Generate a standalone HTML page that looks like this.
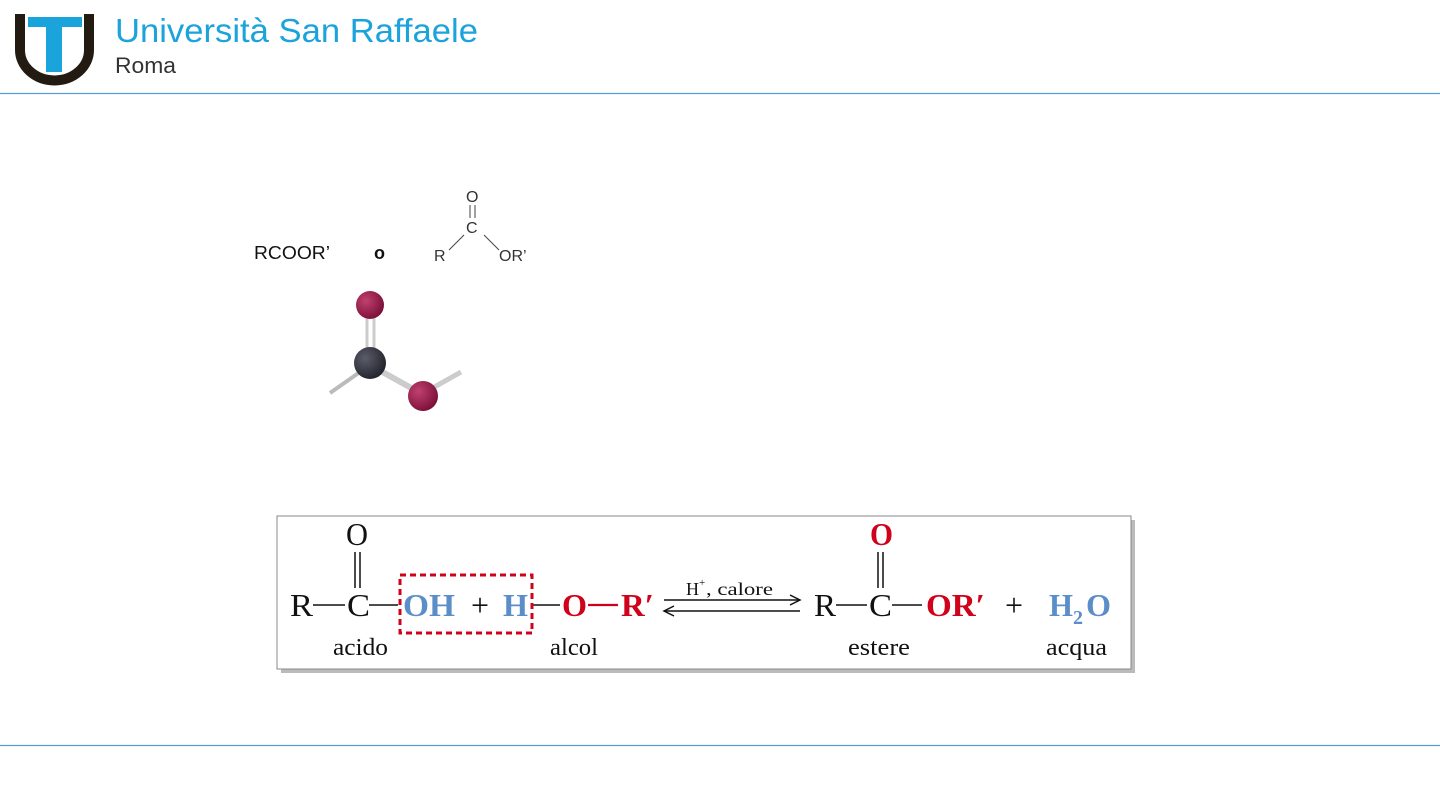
<!DOCTYPE html>
<html><head><meta charset="utf-8"><style>
html,body{margin:0;padding:0;background:#fff;}
svg{display:block}
</style></head><body>
<svg width="1440" height="810" viewBox="0 0 1440 810" xmlns="http://www.w3.org/2000/svg">
<defs>
<radialGradient id="rg" cx="0.35" cy="0.35" r="0.7"><stop offset="0" stop-color="#c0416e"/><stop offset="1" stop-color="#7a0f38"/></radialGradient>
<radialGradient id="bg" cx="0.35" cy="0.35" r="0.7"><stop offset="0" stop-color="#5a5c6a"/><stop offset="1" stop-color="#22232b"/></radialGradient>
</defs>
<rect width="1440" height="810" fill="#fff"/>
<!-- logo -->
<path d="M20 14 V50 A34 30 0 0 0 89 50 V14" fill="none" stroke="#231a12" stroke-width="10"/>
<rect x="28" y="17" width="54" height="10" fill="#1ba3dc"/>
<rect x="46" y="27" width="16" height="45" fill="#1ba3dc"/>
<text x="115" y="42" font-family="Liberation Sans, sans-serif" font-size="33" fill="#1ba3dc" textLength="363" lengthAdjust="spacingAndGlyphs">Università San Raffaele</text>
<text x="115" y="73" font-family="Liberation Sans, sans-serif" font-size="22" fill="#333" textLength="61" lengthAdjust="spacingAndGlyphs">Roma</text>
<line x1="0" y1="93.5" x2="1440" y2="93.5" stroke="#5b9bd5" stroke-width="1.2"/>
<line x1="0" y1="745.5" x2="1440" y2="745.5" stroke="#5b9bd5" stroke-width="1.2"/>
<!-- formula -->
<text x="254" y="259" font-family="Liberation Sans, sans-serif" font-size="18" fill="#111" textLength="76" lengthAdjust="spacingAndGlyphs">RCOOR’</text>
<text x="374" y="259" font-family="Liberation Sans, sans-serif" font-size="18" font-weight="bold" fill="#111">o</text>
<g font-family="Liberation Sans, sans-serif" font-size="16" fill="#333">
<text x="466" y="202">O</text>
<text x="466" y="233">C</text>
<text x="434" y="261">R</text>
<text x="499" y="261">OR’</text>
</g>
<line x1="470" y1="205" x2="470" y2="218" stroke="#444" stroke-width="1"/>
<line x1="475" y1="205" x2="475" y2="218" stroke="#444" stroke-width="1"/>
<line x1="449" y1="250" x2="464" y2="235" stroke="#444" stroke-width="1"/>
<line x1="484" y1="235" x2="499" y2="250" stroke="#444" stroke-width="1"/>
<!-- ball & stick -->
<line x1="367" y1="312" x2="367" y2="360" stroke="#ccc" stroke-width="3"/>
<line x1="374" y1="312" x2="374" y2="360" stroke="#ccc" stroke-width="3"/>
<line x1="330" y1="393" x2="370" y2="365" stroke="#bbb" stroke-width="4"/>
<line x1="370" y1="365" x2="422" y2="394" stroke="#ccc" stroke-width="6"/>
<line x1="422" y1="394" x2="461" y2="372" stroke="#ccc" stroke-width="5"/>
<circle cx="370" cy="305" r="14" fill="url(#rg)"/>
<circle cx="370" cy="363" r="16" fill="url(#bg)"/>
<circle cx="423" cy="396" r="15" fill="url(#rg)"/>
<!-- reaction box -->
<rect x="281" y="520" width="854" height="153" fill="#bbb"/>
<rect x="277" y="516" width="854" height="153" fill="#fff" stroke="#888" stroke-width="1"/>
<g font-family="Liberation Serif, serif" font-size="32">
<text x="290" y="616" fill="#111" textLength="23" lengthAdjust="spacingAndGlyphs">R</text>
<text x="347" y="616" fill="#111" textLength="23" lengthAdjust="spacingAndGlyphs">C</text>
<text x="346" y="545" fill="#111" textLength="22" lengthAdjust="spacingAndGlyphs">O</text>
<text x="403" y="616" fill="#5b8ec9" font-weight="bold" textLength="52" lengthAdjust="spacingAndGlyphs">OH</text>
<text x="471" y="616" fill="#111" textLength="18" lengthAdjust="spacingAndGlyphs">+</text>
<text x="503" y="616" fill="#5b8ec9" font-weight="bold" textLength="25" lengthAdjust="spacingAndGlyphs">H</text>
<text x="562" y="616" fill="#d0021b" font-weight="bold" textLength="25" lengthAdjust="spacingAndGlyphs">O</text>
<text x="621" y="616" fill="#d0021b" font-weight="bold" textLength="33" lengthAdjust="spacingAndGlyphs">R′</text>
<text x="814" y="616" fill="#111" textLength="22" lengthAdjust="spacingAndGlyphs">R</text>
<text x="869" y="616" fill="#111" textLength="23" lengthAdjust="spacingAndGlyphs">C</text>
<text x="870" y="545" fill="#d0021b" font-weight="bold" textLength="23" lengthAdjust="spacingAndGlyphs">O</text>
<text x="926" y="616" fill="#d0021b" font-weight="bold" textLength="59" lengthAdjust="spacingAndGlyphs">OR′</text>
<text x="1005" y="616" fill="#111" textLength="18" lengthAdjust="spacingAndGlyphs">+</text>
<text x="1049" y="616" fill="#5b8ec9" font-weight="bold" textLength="24" lengthAdjust="spacingAndGlyphs">H</text>
<text x="1073" y="624" fill="#5b8ec9" font-weight="bold" font-size="20">2</text>
<text x="1086" y="616" fill="#5b8ec9" font-weight="bold" textLength="25" lengthAdjust="spacingAndGlyphs">O</text>
</g>
<g stroke-width="1.6">
<line x1="313" y1="605" x2="345" y2="605" stroke="#111"/>
<line x1="369" y1="605" x2="398" y2="605" stroke="#111"/>
<line x1="531" y1="605" x2="560" y2="605" stroke="#111"/>
<line x1="588" y1="605" x2="618" y2="605" stroke="#d0021b" stroke-width="2.2"/>
<line x1="836" y1="605" x2="867" y2="605" stroke="#111"/>
<line x1="892" y1="605" x2="922" y2="605" stroke="#111"/>
</g>
<g font-family="Liberation Serif, serif" font-size="24" fill="#111">
<text x="333" y="655" textLength="55" lengthAdjust="spacingAndGlyphs">acido</text>
<text x="550" y="655" textLength="48" lengthAdjust="spacingAndGlyphs">alcol</text>
<text x="848" y="655" textLength="62" lengthAdjust="spacingAndGlyphs">estere</text>
<text x="1046" y="655" textLength="61" lengthAdjust="spacingAndGlyphs">acqua</text>
</g>
<line x1="355" y1="552" x2="355" y2="588" stroke="#111" stroke-width="1.5"/>
<line x1="360" y1="552" x2="360" y2="588" stroke="#111" stroke-width="1.5"/>
<line x1="878" y1="552" x2="878" y2="588" stroke="#111" stroke-width="1.5"/>
<line x1="883" y1="552" x2="883" y2="588" stroke="#111" stroke-width="1.5"/>
<rect x="400" y="575" width="132" height="58" fill="none" stroke="#d0021b" stroke-width="3" stroke-dasharray="6,4"/>
<text x="686" y="595" font-family="Liberation Serif, serif" font-size="18" fill="#111">H</text>
<text x="699" y="586" font-family="Liberation Serif, serif" font-size="11" fill="#111">+</text>
<text x="706" y="595" font-family="Liberation Serif, serif" font-size="18" fill="#111" textLength="67" lengthAdjust="spacingAndGlyphs">, calore</text>
<line x1="664" y1="600" x2="800" y2="600" stroke="#111" stroke-width="1.5"/>
<path d="M790 595 L800 600 L790 605" stroke="#111" stroke-width="1.5" fill="none"/>
<line x1="664" y1="611" x2="800" y2="611" stroke="#111" stroke-width="1.5"/>
<path d="M674 606 L664 611 L674 616" stroke="#111" stroke-width="1.5" fill="none"/>
</svg>
</body></html>
